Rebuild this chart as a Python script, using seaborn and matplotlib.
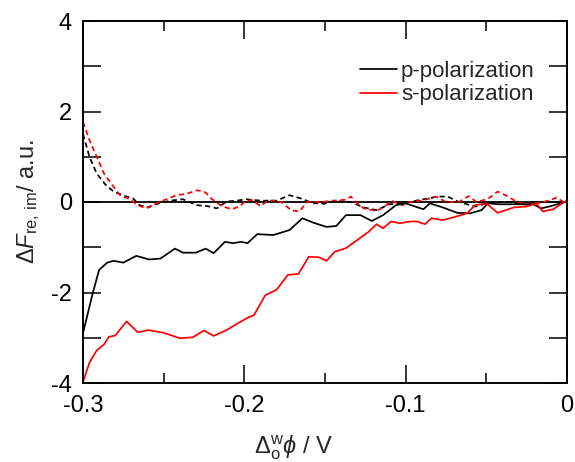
import numpy as np
import pandas as pd
import matplotlib
matplotlib.use("Agg")
import matplotlib.pyplot as plt
import seaborn as sns
from matplotlib.ticker import MultipleLocator, FuncFormatter

# ---------------- data ----------------
p_re_x = [-0.300, -0.294, -0.290, -0.285, -0.281, -0.275, -0.267, -0.259, -0.252, -0.243,
          -0.238, -0.230, -0.224, -0.219, -0.212, -0.207, -0.202, -0.198, -0.192, -0.182,
          -0.172, -0.164, -0.157, -0.149, -0.143, -0.137, -0.128, -0.121, -0.114, -0.106,
          -0.100, -0.095, -0.089, -0.085, -0.077, -0.068, -0.060, -0.053, -0.049, -0.042,
          -0.031, -0.021, -0.016, -0.011, -0.004, 0.000]
p_re_y = [-2.90, -2.02, -1.50, -1.34, -1.30, -1.34, -1.19, -1.27, -1.25, -1.03,
          -1.12, -1.12, -1.03, -1.13, -0.88, -0.91, -0.88, -0.91, -0.71, -0.73,
          -0.62, -0.36, -0.46, -0.55, -0.53, -0.29, -0.29, -0.42, -0.29, -0.07,
          -0.03, -0.09, -0.16, -0.03, -0.12, -0.24, -0.25, -0.18, -0.03, -0.05,
          -0.05, -0.05, -0.14, -0.10, -0.03, 0.02]

s_re_x = [-0.300, -0.296, -0.2915, -0.287, -0.284, -0.280, -0.273, -0.266, -0.2595, -0.250,
          -0.240, -0.232, -0.225, -0.219, -0.211, -0.205, -0.1975, -0.194, -0.187, -0.180,
          -0.173, -0.1665, -0.160, -0.154, -0.149, -0.144, -0.137, -0.130, -0.123, -0.118,
          -0.114, -0.109, -0.1035, -0.097, -0.093, -0.088, -0.084, -0.077, -0.0705, -0.062,
          -0.057, -0.050, -0.043, -0.033, -0.025, -0.019, -0.015, -0.0085, -0.003, 0.000]
s_re_y = [-3.98, -3.55, -3.28, -3.15, -2.98, -2.95, -2.64, -2.88, -2.83, -2.89,
          -3.01, -2.99, -2.84, -2.96, -2.83, -2.70, -2.55, -2.50, -2.06, -1.94,
          -1.61, -1.59, -1.21, -1.22, -1.30, -1.10, -1.02, -0.84, -0.66, -0.49,
          -0.58, -0.43, -0.47, -0.43, -0.43, -0.49, -0.36, -0.40, -0.34, -0.25,
          -0.07, -0.03, -0.24, -0.12, -0.10, -0.03, -0.21, -0.16, -0.03, 0.03]

p_im_x = [-0.300, -0.296, -0.2915, -0.286, -0.281, -0.274, -0.269, -0.265, -0.2595, -0.254,
          -0.246, -0.238, -0.2295, -0.223, -0.217, -0.211, -0.205, -0.1985, -0.190, -0.180,
          -0.172, -0.165, -0.158, -0.151, -0.143, -0.134, -0.126, -0.118, -0.110, -0.102,
          -0.092, -0.080, -0.074, -0.067, -0.057, -0.047, -0.036, -0.025, -0.017, -0.006, 0.000]
p_im_y = [1.50, 1.00, 0.63, 0.38, 0.23, 0.13, 0.08, -0.07, -0.12, -0.04,
          0.03, 0.06, -0.07, -0.09, -0.14, 0.01, 0.03, 0.06, 0.03, 0.03,
          0.15, 0.08, -0.02, -0.04, 0.02, 0.00, -0.12, -0.18, -0.05, -0.03,
          0.04, 0.12, 0.12, 0.00, -0.10, 0.00, 0.00, -0.06, 0.00, 0.00, 0.02]

s_im_x = [-0.300, -0.296, -0.2915, -0.287, -0.282, -0.277, -0.271, -0.266, -0.261, -0.254,
          -0.247, -0.242, -0.236, -0.229, -0.224, -0.220, -0.214, -0.208, -0.203, -0.199,
          -0.195, -0.190, -0.185, -0.177, -0.171, -0.166, -0.161, -0.152, -0.145, -0.137,
          -0.134, -0.130, -0.126, -0.118, -0.112, -0.109, -0.102, -0.097, -0.089, -0.081,
          -0.075, -0.067, -0.061, -0.056, -0.049, -0.043, -0.037, -0.031, -0.025, -0.017,
          -0.0105, -0.0064, -0.0023, 0.000]
s_im_y = [1.77, 1.37, 1.00, 0.63, 0.38, 0.15, 0.06, -0.07, -0.14, -0.02,
          0.08, 0.15, 0.18, 0.26, 0.21, 0.06, -0.09, -0.16, -0.10, 0.03,
          0.04, -0.09, 0.04, 0.00, -0.18, -0.21, 0.00, 0.00, 0.03, 0.05,
          0.12, -0.03, -0.14, -0.20, -0.07, 0.03, -0.07, 0.00, 0.04, 0.12,
          0.00, 0.00, 0.13, 0.00, 0.07, 0.23, 0.13, 0.00, -0.05, -0.02,
          0.04, 0.10, 0.00, 0.02]

legend_labels = ["p-polarization", "s-polarization"]
x_ticks = [-0.3, -0.2, -0.1, 0.0]
y_ticks = [-4, -2, 0, 2, 4]

# ---------------- style ----------------
sns.set_style("ticks")
plt.rcParams["font.family"] = ["Liberation Sans", "DejaVu Sans"]
plt.rcParams["mathtext.fontset"] = "custom"
plt.rcParams["mathtext.rm"] = "Liberation Sans"
plt.rcParams["mathtext.it"] = "Liberation Sans:italic"
plt.rcParams["axes.unicode_minus"] = False

fig = plt.figure(figsize=(5.75, 4.62), dpi=100)
ax = fig.add_axes([83 / 575, 1 - 383 / 462, 484 / 575, 362 / 462])

lw = 1.25
ax.axhline(0, color="black", lw=1.3, zorder=1)
sns.lineplot(x=p_im_x, y=p_im_y, ax=ax, color="black", lw=lw, estimator=None, sort=False)
sns.lineplot(x=s_im_x, y=s_im_y, ax=ax, color="red", lw=lw, estimator=None, sort=False)
sns.lineplot(x=p_re_x, y=p_re_y, ax=ax, color="black", lw=lw, estimator=None, sort=False,
             label=legend_labels[0])
sns.lineplot(x=s_re_x, y=s_re_y, ax=ax, color="red", lw=lw, estimator=None, sort=False,
             label=legend_labels[1])
for line in ax.lines[1:3]:
    line.set_dashes([3, 2])

ax.set_xlim(-0.3, 0.0)
ax.set_ylim(-4, 4)

ax.xaxis.set_minor_locator(MultipleLocator(0.05))
ax.yaxis.set_minor_locator(MultipleLocator(1))
ax.set_xticks(x_ticks)
ax.set_yticks(y_ticks)
ax.xaxis.set_major_formatter(FuncFormatter(lambda v, p: "0" if abs(v) < 1e-9 else f"{v:.1f}"))
ax.yaxis.set_major_formatter(FuncFormatter(lambda v, p: f"{int(round(v))}"))

ax.tick_params(which="both", direction="in", top=True, right=True, width=1.1,
               labelsize=17, colors="black")
ax.tick_params(axis="x", which="major", length=13, pad=9)
ax.tick_params(axis="x", which="minor", length=7)
ax.tick_params(axis="y", which="both", length=13, pad=8)
for s in ax.spines.values():
    s.set_linewidth(1.4)
    s.set_color("black")

ax.set_xlabel(r"$\Delta_{\mathrm{o}}^{\mathrm{w}}\phi$ / V", fontsize=17)
ax.set_ylabel(r"$\Delta F_{\mathrm{re,\,im}}$/ a.u.", fontsize=17)
ax.xaxis.set_label_coords(0.435, -0.14)
ax.yaxis.set_label_coords(-0.085, 0.5)

leg = ax.legend(loc="upper left", bbox_to_anchor=(0.572, 0.89), frameon=False,
                fontsize=16, handlelength=1.65, handletextpad=0.2,
                labelspacing=0.12, borderpad=0, borderaxespad=0)

fig.savefig("out.png", dpi=100)
